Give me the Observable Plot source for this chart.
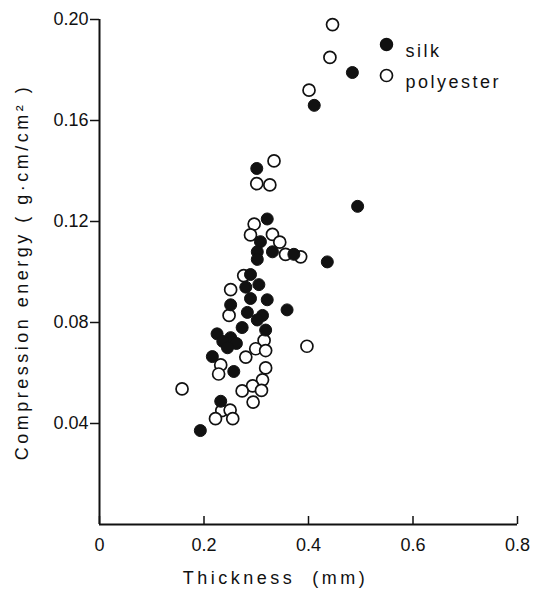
<!DOCTYPE html>
<html><head><meta charset="utf-8">
<script src="https://cdn.jsdelivr.net/npm/d3@7"></script>
<script src="https://cdn.jsdelivr.net/npm/@observablehq/plot@0.6"></script>
<style>body{margin:0;background:#fff}</style>
</head><body><div id="chart"></div>
<script>
const silkX = [0.484,0.411,0.494,0.436,0.301,0.321,0.308,0.331,0.302,0.302,0.372,0.289,0.305,0.280,0.321,0.289,0.359,0.251,0.283,0.312,0.302,0.225,0.251,0.262,0.236,0.245,0.318,0.273,0.216,0.257,0.232,0.193];
const silkY = [0.179,0.166,0.126,0.104,0.141,0.121,0.112,0.108,0.108,0.105,0.107,0.099,0.095,0.094,0.089,0.0895,0.085,0.087,0.084,0.0828,0.081,0.0755,0.074,0.0717,0.0725,0.070,0.077,0.078,0.0665,0.0606,0.0488,0.0372];
const polyX = [0.446,0.441,0.401,0.334,0.301,0.326,0.296,0.289,0.331,0.345,0.356,0.385,0.397,0.276,0.251,0.248,0.315,0.299,0.318,0.280,0.232,0.228,0.318,0.312,0.293,0.273,0.310,0.294,0.158,0.234,0.250,0.222,0.255];
const polyY = [0.198,0.185,0.172,0.144,0.135,0.1345,0.119,0.1147,0.1149,0.1118,0.107,0.106,0.0706,0.0986,0.093,0.0828,0.0729,0.0696,0.0689,0.0663,0.0632,0.0596,0.062,0.0573,0.0549,0.0529,0.0531,0.0485,0.0537,0.0451,0.0453,0.0419,0.0419];
const xTicks = [0, 0.2, 0.4, 0.6, 0.8];
const xTickLabels = ["0", "0.2", "0.4", "0.6", "0.8"];
const yTicks = [0.04, 0.08, 0.12, 0.16, 0.20];
const yTickLabels = ["0.04", "0.08", "0.12", "0.16", "0.20"];
const seriesNames = ["silk", "polyester"];
const xTitle = "Thickness  (mm)";
const yTitle = "Compression energy ( g·cm/cm² )";

const silk = silkX.map((x, i) => ({x, y: silkY[i]}));
const poly = polyX.map((x, i) => ({x, y: polyY[i]}));

const txt = {fontFamily: "Liberation Sans", fontSize: 18, fill: "#111"};

const chart = Plot.plot({
  width: 535, height: 597,
  marginLeft: 99, marginRight: 18, marginTop: 19, marginBottom: 73,
  x: {domain: [0, 0.8]},
  y: {domain: [0, 0.2]},
  style: {fontFamily: "Liberation Sans", fontSize: "18px", color: "#111", background: "#fff"},
  marks: [
    Plot.axisY({ticks: yTicks, tickSize: 9, tickPadding: 2, tickFormat: (d, i) => yTickLabels[i], label: null, fontSize: 18, strokeWidth: 1.5}),
    Plot.axisX({ticks: xTicks, tickSize: 0, tickPadding: 14, tickFormat: (d, i) => xTickLabels[i], label: null, fontSize: 18}),
    Plot.tickX(xTicks, {x: d => d, insetTop: 497, strokeWidth: 1.5, stroke: "#111"}),
    Plot.ruleX([0], {strokeWidth: 2, stroke: "#111"}),
    Plot.ruleY([0], {strokeWidth: 2, stroke: "#111"}),
    Plot.dot(poly, {x: "x", y: "y", r: 6, fill: "white", stroke: "#111", strokeWidth: 1.7}),
    Plot.dot(silk, {x: "x", y: "y", r: 6, fill: "#111", stroke: "#111", strokeWidth: 1}),
    Plot.dot([seriesNames[0]], {frameAnchor: "top-right", dx: -131, dy: 25, r: 6, fill: "#111", stroke: "#111"}),
    Plot.text([seriesNames[0]], {frameAnchor: "top-right", dx: -112, dy: 25, textAnchor: "start", ...txt}),
    Plot.dot([seriesNames[1]], {frameAnchor: "top-right", dx: -131, dy: 56, r: 6, fill: "white", stroke: "#111", strokeWidth: 1.7}),
    Plot.text([seriesNames[1]], {frameAnchor: "top-right", dx: -112, dy: 56, textAnchor: "start", ...txt}),
    Plot.text([yTitle], {frameAnchor: "left", dx: -77, rotate: -90, textAnchor: "middle", ...txt}),
    Plot.text([xTitle], {frameAnchor: "bottom", dx: -33, dy: 59, textAnchor: "middle", ...txt})
  ]
});
document.getElementById("chart").appendChild(chart);
d3.select(chart).selectAll("text").filter(function(){ return ["silk","polyester"].includes(this.textContent); }).attr("letter-spacing", "2.5px");
d3.select(chart).selectAll("text").filter(function(){ return [xTitle, yTitle].includes(this.textContent); }).attr("letter-spacing", "3.5px");
</script></body></html>
